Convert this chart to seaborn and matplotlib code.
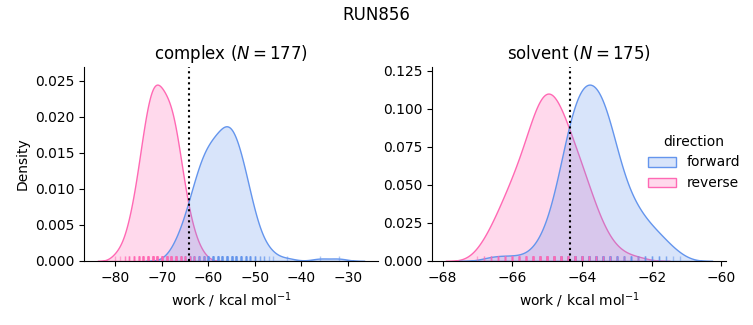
import numpy as np
import pandas as pd
import matplotlib
matplotlib.use("Agg")
import matplotlib.pyplot as plt
import seaborn as sns

# ---- data (work values, with multiplicities) ----
complex_forward_work = [-68, -67, -66, -65, -64, -63, -62, -61, -60, -59, -58, -57, -56,
                        -55, -54, -53, -52, -51, -50, -49, -48, -47, -46, -43, -36, -32]
complex_forward_count = [1, 2, 3, 4, 6, 8, 10, 11, 12, 12, 12, 13, 15,
                         14, 13, 11, 9, 7, 4, 2, 2, 1, 1, 1, 1, 1]

complex_reverse_work = [-80, -79, -78, -77, -76, -75, -74, -73, -72, -71, -70, -69, -68,
                        -67, -66, -65, -64, -63, -62, -61]
complex_reverse_count = [1, 1, 2, 4, 6, 9, 13, 16, 18, 18, 17, 16, 16,
                         14, 10, 7, 4, 3, 1, 1]

solvent_forward_work = [-66.6, -66.2, -65.8, -65.4, -65.2, -65.0, -64.8, -64.6, -64.4, -64.2,
                        -64.0, -63.8, -63.6, -63.4, -63.2, -63.0, -62.8, -62.6, -62.4, -62.2,
                        -62.0, -61.8, -61.6, -61.4, -61.2]
solvent_forward_count = [1, 1, 1, 1, 2, 3, 5, 9, 13, 16,
                         17, 17, 17, 16, 14, 10, 7, 6, 5, 4,
                         3, 3, 2, 1, 1]

solvent_reverse_work = [-67.0, -66.8, -66.6, -66.4, -66.2, -66.0, -65.8, -65.6, -65.4, -65.2,
                        -65.0, -64.8, -64.6, -64.4, -64.2, -64.0, -63.8, -63.6, -63.4, -63.2,
                        -63.0, -62.8, -62.4]
solvent_reverse_count = [1, 2, 3, 5, 6, 8, 9, 11, 14, 16,
                         17, 16, 15, 12, 11, 9, 7, 5, 3, 2,
                         1, 1, 1]

phases = ["complex", "solvent"]
directions = ["forward", "reverse"]
n_samples = {"complex": 177, "solvent": 175}
dg_estimate = {"complex": -64.1, "solvent": -64.35}
palette = {"forward": "cornflowerblue", "reverse": "hotpink"}

series = {
    ("complex", "forward"): (complex_forward_work, complex_forward_count),
    ("complex", "reverse"): (complex_reverse_work, complex_reverse_count),
    ("solvent", "forward"): (solvent_forward_work, solvent_forward_count),
    ("solvent", "reverse"): (solvent_reverse_work, solvent_reverse_count),
}

frames = []
for (phase, direction), (work, count) in series.items():
    w = np.repeat(np.asarray(work, float), np.asarray(count, int))
    frames.append(pd.DataFrame({"work": w, "phase": phase, "direction": direction}))
df = pd.concat(frames, ignore_index=True)

g = sns.displot(
    data=df, x="work", hue="direction", col="phase", kind="kde",
    fill=True, rug=True, palette=palette, hue_order=directions, col_order=phases,
    rug_kws=dict(alpha=0.5),
    facet_kws=dict(sharex=False, sharey=False), height=3.25, aspect=1.0,
)
fig = g.figure
fig.set_size_inches(7.53, 3.25)
fig.subplots_adjust(left=0.1116, right=0.964, bottom=0.197, top=0.794, wspace=0.184)

for ax, phase in zip(g.axes.flat, phases):
    ax.set_title(f"{phase} ($N = {n_samples[phase]}$)", fontsize=12)
    ax.axvline(dg_estimate[phase], color="black", linestyle=":", linewidth=1.5)
    ax.set_xlabel("work / kcal mol$^{-1}$")

g.axes.flat[0].set_ylabel("Density")
fig.suptitle("RUN856")

fig.savefig("out.png", dpi=100)
